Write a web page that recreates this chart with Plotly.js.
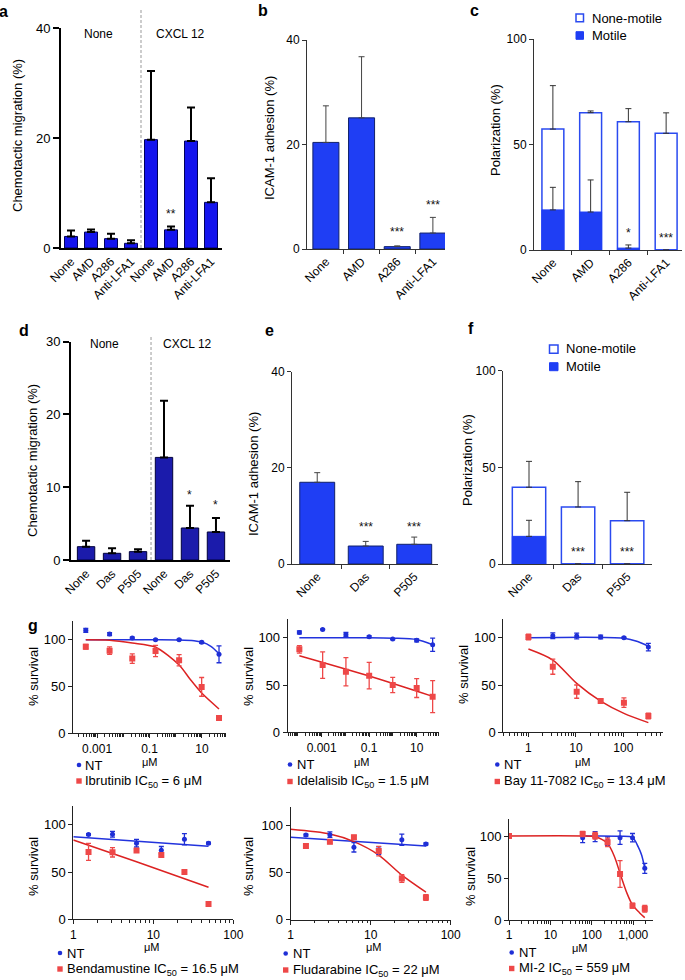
<!DOCTYPE html>
<html><head><meta charset="utf-8">
<script src="https://cdn.plot.ly/plotly-3.0.1.min.js"></script>
<style>body{margin:0;background:#fff}#chart{width:685px;height:980px}</style>
</head><body><div id="chart"></div>
<script>
// ---------------- DATA ----------------
// Panel a – chemotactic migration (%)
const aLabels = ['None','AMD','A286','Anti-LFA1','None','AMD','A286','Anti-LFA1'];
const aValues = [2.1, 2.9, 1.7, 0.85, 19.7, 3.3, 19.45, 8.3];
const aErrors = [1.1, 0.45, 0.9, 0.55, 12.5, 0.6, 6.1, 4.4];
// Panel b – ICAM-1 adhesion (%)
const bLabels = ['None','AMD','A286','Anti-LFA1'];
const bValues = [20.4, 25.1, 0.45, 3.05];
const bErrors = [7.0, 11.7, 0.15, 3.0];
// Panel c – polarization (%)
const cLabels = ['None','AMD','A286','Anti-LFA1'];
const cTotal = [57.3, 65.1, 60.8, 55.3];
const cTotalErr = [20.6, 0.8, 6.2, 9.7];
const cMotile = [19, 18, 0.9, 0];
const cMotileErr = [10.7, 15.2, 1.5, null];
// Panel d – chemotactic migration (%)
const dLabels = ['None','Das','P505','None','Das','P505'];
const dValues = [1.83, 0.92, 1.15, 14.1, 4.4, 3.85];
const dErrors = [0.83, 0.68, 0.32, 7.8, 3.07, 1.92];
// Panel e – ICAM-1 adhesion (%)
const eLabels = ['None','Das','P505'];
const eValues = [17.0, 3.74, 4.1];
const eErrors = [2.0, 0.96, 1.5];
// Panel f – polarization (%)
const fLabels = ['None','Das','P505'];
const fTotal = [39.7, 29.5, 22.4];
const fTotalErr = [13.4, 13.1, 14.7];
const fMotile = [14.3, 0, 0];
const fMotileErr = [8.3, null, null];

// Panel g – % survival vs concentration (µM)
const g1Conc = [0.00037, 0.003, 0.022, 0.17, 1.35, 9.8, 45];
const g1NT = [110, 106, 101.8, 100, 100, 97.2, 84.4];
const g1NTErr = [2, 1.5, 1, 0.5, 0.5, 1, 9];
const g1Drug = [92.6, 88.3, 79.8, 88, 78, 49.6, 16.3];
const g1DrugErr = [2.5, 4, 5, 6, 6, 10, 0.5];
const g1FitX = [0.00037, 0.003, 0.022, 0.17, 1.35, 3.5, 9.8, 45];
const g1FitY = [100, 99.5, 96.5, 92, 73, 58, 43, 26];
const g1NTFitX = [0.00037, 0.17, 1.35, 5, 9.8, 22, 45];
const g1NTFitY = [100, 100, 99.8, 99, 97.5, 93, 85];
const g2Conc = [0.000115, 0.0011, 0.0105, 0.1, 0.98, 10, 47];
const g2NT = [105.6, 108.8, 103.5, 101, 98.6, 97.2, 92.6];
const g2NTErr = [1.5, 0.5, 2, 1, 0.5, 1.5, 7];
const g2Drug = [87.7, 71.1, 64, 59.9, 50, 46.8, 37.7];
const g2DrugErr = [4, 14, 15, 14, 8, 10, 17];
const g2FitX = [0.000115, 0.1, 47];
const g2FitY = [81, 59.5, 38];
const g2NTFitX = [0.000115, 0.1, 1, 10, 47];
const g2NTFitY = [100, 100, 99.5, 98, 92.5];
const g3Conc = [1, 3.26, 10.4, 33.3, 103, 337];
const g3NT = [100.4, 102.1, 101.8, 100.7, 100, 90.1];
const g3NTErr = [2, 3, 3, 2, 0.5, 4];
const g3Drug = [100.7, 69.4, 43, 33.1, 31.3, 17.3];
const g3DrugErr = [3, 8, 7, 2, 5, 3];
const g3FitX = [1, 3.26, 10.4, 33.3, 103, 337];
const g3FitY = [88, 76.4, 51.8, 33, 20, 10.2];
const g3NTFitX = [1, 103, 200, 337];
const g3NTFitY = [100, 99.5, 96, 91];
const g4Conc = [1.55, 3.09, 6.17, 12.6, 24.5, 49];
const g4NT = [89.8, 90.1, 80.6, 73.1, 84.8, 80.6];
const g4NTErr = [1, 3, 4, 4, 6, 1];
const g4Drug = [71.4, 71, 72.8, 68.2, 50.2, 16.3];
const g4DrugErr = [9, 5, 1.5, 1.5, 1, 0.5];
const g4FitX = [1, 6.17, 49];
const g4FitY = [84, 61, 34];
const g4NTFitX = [1, 49];
const g4NTFitY = [87.3, 77.4];
const g5Conc = [1.55, 3.09, 6.17, 12.6, 24.5, 49];
const g5NT = [90, 90.5, 77, 73.5, 85, 80.6];
const g5NTErr = [1, 3, 5, 4, 6, 1];
const g5Drug = [78.4, 83, 87.6, 73, 43.8, 23.6];
const g5DrugErr = [2, 2, 2, 5, 4, 3];
const g5FitX = [1, 3.09, 6.17, 12.6, 24.5, 49];
const g5FitY = [96.1, 91.1, 83, 68.8, 47.5, 29.4];
const g5NTFitX = [1, 49];
const g5NTFitY = [87.6, 78.4];
const g6Conc = [1, 60, 120, 240, 480, 960, 1900];
const g6Drug = [100, 102.4, 100.4, 92.5, 54.8, 17.1, 13.5];
const g6DrugErr = [2, 3, 4, 5, 16, 3, 4];
const g6NTConc = [60, 120, 240, 480, 960, 1900];
const g6NT = [98, 99.2, 94, 98, 98, 61.5];
const g6NTErr = [6, 6, 5, 8, 5, 6];
const g6FitX = [1, 60, 120, 240, 355, 480, 708, 960, 1413, 1900];
const g6FitY = [100, 100, 99, 91, 75, 55.6, 31.7, 17.9, 8.7, 2.8];
const g6NTFitX = [60, 480, 960, 1320, 1600, 1900];
const g6NTFitY = [100, 99.8, 98.4, 87, 77, 61.5];

const drugNames = [
  'Ibrutinib IC<sub>50</sub> = 6 μM',
  'Idelalisib IC<sub>50</sub> = 1.5 μM',
  'Bay 11-7082 IC<sub>50</sub> = 13.4 μM',
  'Bendamustine IC<sub>50</sub> = 16.5 μM',
  'Fludarabine IC<sub>50</sub> = 22 μM',
  'MI-2 IC<sub>50</sub> = 559 μM'
];
const gTickSmall = [0.001, 0.1, 10];
const gTickSmallText = ['0.001', '0.1', '10'];
const gTick3 = [1, 10, 100];
const gTick3Text = ['1', '10', '100'];
const gTick4 = [1, 10, 100, 1000];
const gTick4Text = ['1', '10', '100', '1,000'];

// ---------------- LAYOUT HELPERS ----------------
const W = 685, H = 980;
const FONT = 'Liberation Sans, Arial, Helvetica, sans-serif';
const px = x => x / W;
const py = y => 1 - y / H;
const layout = {
  width: W, height: H, margin: {l: 0, r: 0, t: 0, b: 0},
  paper_bgcolor: '#fff', plot_bgcolor: 'rgba(0,0,0,0)',
  showlegend: false, barmode: 'overlay',
  font: {family: FONT, size: 12, color: '#000'},
  shapes: [], annotations: []
};
const traces = [];

function axes(k, xd, yd, xo, yo) {
  const s = k === 1 ? '' : String(k);
  layout['xaxis' + s] = Object.assign({domain: [px(xd[0]), px(xd[1])], anchor: 'y' + s,
    showgrid: false, zeroline: false, fixedrange: true, automargin: false}, xo);
  layout['yaxis' + s] = Object.assign({domain: [py(yd[1]), py(yd[0])], anchor: 'x' + s,
    showgrid: false, zeroline: false, fixedrange: true, automargin: false}, yo);
  return {x: 'x' + s, y: 'y' + s};
}
function note(x, y, text, opt) {
  layout.annotations.push(Object.assign({xref: 'paper', yref: 'paper', x: px(x), y: py(y), text,
    showarrow: false, xanchor: 'center', yanchor: 'middle',
    font: {size: 12, color: '#000', family: FONT}}, opt || {}));
}
function star(ax, x, y, text) {
  layout.annotations.push({xref: ax.x, yref: ax.y, x, y, text, showarrow: false,
    xanchor: 'center', yanchor: 'middle', font: {size: 12, color: '#111', family: FONT}});
}
function barX(labels, range, heavy, sep) {
  const o = {range, showline: true, linecolor: heavy ? '#000' : '#333', linewidth: heavy ? 2 : 1,
    tickmode: 'array', tickvals: labels.map((_, i) => i), ticktext: labels, tickangle: -45,
    ticks: '', tickfont: {size: 12, color: '#000'}};
  if (sep) o.minor = {tickmode: 'array', tickvals: labels.slice(1).map((_, i) => i + 0.5),
    ticks: 'outside', ticklen: 4, tickcolor: '#333', tickwidth: 1};
  return o;
}
function barY(range, tv, heavy) {
  return {range, showline: true, linecolor: heavy ? '#000' : '#333', linewidth: heavy ? 2 : 1,
    tickmode: 'array', tickvals: tv, ticks: 'outside', ticklen: heavy ? 6 : 4,
    tickwidth: heavy ? 2 : 1, tickcolor: heavy ? '#000' : '#333',
    tickfont: {size: heavy ? 13 : 12, color: '#000'}};
}
function bars(ax, vals, errs, width, fill, lineCol, lineW, errCol, errThick, errW) {
  traces.push({type: 'bar', x: vals.map((_, i) => i), y: vals, xaxis: ax.x, yaxis: ax.y, width,
    marker: {color: fill, line: {color: lineCol, width: lineW}},
    error_y: {type: 'data', symmetric: false, array: errs, arrayminus: errs.map(() => 0),
      color: errCol, thickness: errThick, width: errW},
    hoverinfo: 'skip'});
}

// ---------------- PANEL a ----------------
const AX = axes(1, [61, 222], [28, 248], barX(aLabels, [-0.5, 7.55], true, false), barY([0, 40], [0, 20, 40], true));
bars(AX, aValues, aErrors, 0.65, '#1414ee', '#00005a', 1, '#000', 2, 4);
layout.shapes.push({type: 'line', xref: AX.x, yref: 'paper', x0: 3.5, x1: 3.5, y0: py(248), y1: py(10),
  line: {color: '#999', width: 1, dash: '3px,2px'}});
layout.annotations.push({xref: AX.x, yref: 'paper', x: 1.35, y: py(25), text: 'None', showarrow: false, font: {size: 12, family: FONT}});
layout.annotations.push({xref: AX.x, yref: 'paper', x: 5.45, y: py(25), text: 'CXCL 12', showarrow: false, font: {size: 12, family: FONT}});
star(AX, 5, 6.2, '**');
note(17, 136, 'Chemotactic migration (%)', {textangle: -90, font: {size: 13, family: FONT, color: '#000'}});
note(4, 11, '<b>a</b>', {font: {size: 16, family: FONT, color: '#000'}});

// ---------------- PANEL b ----------------
const BX = axes(2, [307, 445], [40, 249], barX(bLabels, [-0.53, 3.34], false, true), barY([0, 40], [0, 20, 40], false));
bars(BX, bValues, bErrors, 0.73, '#1f3ef4', '#10206a', 1, '#444', 1, 3);
star(BX, 2, 3.25, '***');
star(BX, 3, 8.5, '***');
note(269, 138, 'ICAM-1 adhesion (%)', {textangle: -90, font: {size: 13, family: FONT, color: '#000'}});
note(263, 10, '<b>b</b>', {font: {size: 16, family: FONT, color: '#000'}});

// ---------------- PANEL c ----------------
const CX = axes(3, [534, 682], [39, 250], barX(cLabels, [-0.5, 3.42], false, true), barY([0, 100], [0, 50, 100], false));
bars(CX, cTotal, cTotalErr, 0.58, '#ffffff', '#2a4af0', 1.5, '#333', 1, 3);
bars(CX, cMotile, cMotileErr, 0.58, '#1f3ef4', '#1f3ef4', 1, '#333', 1, 3);
star(CX, 2, 8.1, '*');
star(CX, 3, 5.7, '***');
note(495, 130, 'Polarization (%)', {textangle: -90, font: {size: 13, family: FONT, color: '#000'}});
note(474, 10, '<b>c</b>', {font: {size: 16, family: FONT, color: '#000'}});
layout.shapes.push({type: 'rect', xref: 'paper', yref: 'paper', x0: px(576), x1: px(583.5), y0: py(21.7), y1: py(14),
  fillcolor: '#fff', line: {color: '#2a4af0', width: 1.5}});
layout.shapes.push({type: 'rect', xref: 'paper', yref: 'paper', x0: px(576), x1: px(583.5), y0: py(39.3), y1: py(31.7),
  fillcolor: '#1f3ef4', line: {color: '#1f3ef4', width: 1}});
note(590, 18, 'None-motile', {xanchor: 'left', font: {size: 13, family: FONT, color: '#000'}});
note(590, 35.5, 'Motile', {xanchor: 'left', font: {size: 13, family: FONT, color: '#000'}});

// ---------------- PANEL d ----------------
const DX = axes(4, [71, 230], [341.7, 560], barX(dLabels, [-0.58, 5.54], true, false), barY([0, 30], [0, 10, 20, 30], true));
bars(DX, dValues, dErrors, 0.67, '#1b1bab', '#00003a', 1, '#000', 2, 4);
layout.shapes.push({type: 'line', xref: DX.x, yref: 'paper', x0: 2.5, x1: 2.5, y0: py(560), y1: py(337),
  line: {color: '#999', width: 1, dash: '3px,2px'}});
layout.annotations.push({xref: DX.x, yref: 'paper', x: 0.7, y: py(344), text: 'None', showarrow: false, font: {size: 12, family: FONT}});
layout.annotations.push({xref: DX.x, yref: 'paper', x: 3.9, y: py(344), text: 'CXCL 12', showarrow: false, font: {size: 12, family: FONT}});
star(DX, 4, 9.0, '*');
star(DX, 5, 7.5, '*');
note(32, 461, 'Chemotactic migration (%)', {textangle: -90, font: {size: 13, family: FONT, color: '#000'}});
note(24, 330, '<b>d</b>', {font: {size: 16, family: FONT, color: '#000'}});

// ---------------- PANEL e ----------------
const EX = axes(5, [292, 438], [371.7, 564], barX(eLabels, [-0.52, 2.49], false, true), barY([0, 40], [0, 20, 40], false));
bars(EX, eValues, eErrors, 0.72, '#1f3ef4', '#10206a', 1, '#444', 1, 3);
star(EX, 1, 7.75, '***');
star(EX, 2, 7.75, '***');
note(253, 474, 'ICAM-1 adhesion (%)', {textangle: -90, font: {size: 13, family: FONT, color: '#000'}});
note(269, 330, '<b>e</b>', {font: {size: 16, family: FONT, color: '#000'}});

// ---------------- PANEL f ----------------
const FX = axes(6, [503, 651.7], [370.7, 564], barX(fLabels, [-0.53, 2.5], false, true), barY([0, 100], [0, 50, 100], false));
bars(FX, fTotal, fTotalErr, 0.68, '#ffffff', '#2a4af0', 1.5, '#333', 1, 3);
bars(FX, fMotile, fMotileErr, 0.68, '#1f3ef4', '#1f3ef4', 1, '#333', 1, 3);
star(FX, 1, 6.2, '***');
star(FX, 2, 6.2, '***');
note(467, 460, 'Polarization (%)', {textangle: -90, font: {size: 13, family: FONT, color: '#000'}});
note(471, 328, '<b>f</b>', {font: {size: 16, family: FONT, color: '#000'}});
layout.shapes.push({type: 'rect', xref: 'paper', yref: 'paper', x0: px(549.5), x1: px(558), y0: py(353.3), y1: py(345),
  fillcolor: '#fff', line: {color: '#2a4af0', width: 1.5}});
layout.shapes.push({type: 'rect', xref: 'paper', yref: 'paper', x0: px(549.5), x1: px(558), y0: py(370.7), y1: py(362.7),
  fillcolor: '#1f3ef4', line: {color: '#1f3ef4', width: 1}});
note(564, 349, 'None-motile', {xanchor: 'left', font: {size: 13, family: FONT, color: '#000'}});
note(564, 366.7, 'Motile', {xanchor: 'left', font: {size: 13, family: FONT, color: '#000'}});

// ---------------- PANEL g ----------------
const BLUE = '#1f2fd6', RED = '#ee4848', REDLINE = '#dc2222', BLUELINE = '#2233dd';
function doseAxes(k, xd, yd, xrange, tv, tt) {
  return axes(k, xd, yd,
    {type: 'log', range: xrange, showline: true, linecolor: '#222', linewidth: 1,
      tickmode: 'array', tickvals: tv, ticktext: tt, ticks: 'outside', ticklen: 4, tickcolor: '#222',
      tickfont: {size: 12, color: '#000'},
      minor: {dtick: 'D1', ticks: 'outside', ticklen: 2.5, tickcolor: '#222'}},
    {range: [0, 120], showline: true, linecolor: '#222', linewidth: 1, tickmode: 'array',
      tickvals: [0, 50, 100], ticks: 'outside', ticklen: 4, tickcolor: '#222',
      tickfont: {size: 13, color: '#000'}});
}
function line(ax, x, y, color) {
  traces.push({type: 'scatter', mode: 'lines', x, y, xaxis: ax.x, yaxis: ax.y,
    line: {color, width: 1.5, shape: 'spline', smoothing: 0.8}, hoverinfo: 'skip'});
}
function pts(ax, x, y, err, color, symbol, size) {
  traces.push({type: 'scatter', mode: 'markers', x, y, xaxis: ax.x, yaxis: ax.y,
    marker: {color, symbol, size},
    error_y: {type: 'data', array: err, color, thickness: 1.3, width: 2.5}, hoverinfo: 'skip'});
}
function doseLegend(cx, cy1, cy2, tx, name) {
  layout.shapes.push({type: 'circle', xref: 'paper', yref: 'paper', x0: px(cx - 2.3), x1: px(cx + 2.3),
    y0: py(cy1 + 2.3), y1: py(cy1 - 2.3), fillcolor: BLUE, line: {width: 0}});
  layout.shapes.push({type: 'rect', xref: 'paper', yref: 'paper', x0: px(cx - 2.7), x1: px(cx + 2.7),
    y0: py(cy2 + 2.7), y1: py(cy2 - 2.7), fillcolor: RED, line: {width: 0}});
  note(tx, cy1, 'NT', {xanchor: 'left', font: {size: 13, family: FONT, color: '#000'}});
  note(tx, cy2, name, {xanchor: 'left', font: {size: 13, family: FONT, color: '#000'}});
}

const G1 = doseAxes(7, [73, 226], [621, 733.3], [-3.92, 1.92], gTickSmall, gTickSmallText);
line(G1, g1NTFitX, g1NTFitY, BLUELINE); line(G1, g1FitX, g1FitY, REDLINE);
pts(G1, g1Conc, g1NT, g1NTErr, BLUE, 'circle', 5); pts(G1, g1Conc, g1Drug, g1DrugErr, RED, 'square', 6);
note(33, 677, '% survival', {textangle: -90, font: {size: 13, family: FONT, color: '#000'}});
note(150, 762, 'μM', {font: {size: 11, family: FONT, color: '#000'}});
doseLegend(79, 765, 781, 83, drugNames[0]);
note(33, 625, '<b>g</b>', {font: {size: 16, family: FONT, color: '#000'}});

const G2 = doseAxes(8, [287.7, 439], [618.8, 732.3], [-4.43, 1.94], gTickSmall, gTickSmallText);
line(G2, g2NTFitX, g2NTFitY, BLUELINE); line(G2, g2FitX, g2FitY, REDLINE);
pts(G2, g2Conc, g2NT, g2NTErr, BLUE, 'circle', 5); pts(G2, g2Conc, g2Drug, g2DrugErr, RED, 'square', 6);
note(248, 677, '% survival', {textangle: -90, font: {size: 13, family: FONT, color: '#000'}});
note(361.7, 762, 'μM', {font: {size: 11, family: FONT, color: '#000'}});
doseLegend(290, 764.5, 781.5, 295, drugNames[1]);

const G3 = doseAxes(9, [503.3, 662.7], [618.8, 732.3], [-0.53, 2.83], gTick3, gTick3Text);
line(G3, g3NTFitX, g3NTFitY, BLUELINE); line(G3, g3FitX, g3FitY, REDLINE);
pts(G3, g3Conc, g3NT, g3NTErr, BLUE, 'circle', 5); pts(G3, g3Conc, g3Drug, g3DrugErr, RED, 'square', 6);
note(463, 675, '% survival', {textangle: -90, font: {size: 13, family: FONT, color: '#000'}});
note(583.3, 762, 'μM', {font: {size: 11, family: FONT, color: '#000'}});
doseLegend(497.3, 764.5, 781.5, 502, drugNames[2]);

const G4 = doseAxes(10, [73.3, 233.3], [806, 919.3], [0, 2], gTick3, gTick3Text);
line(G4, g4NTFitX, g4NTFitY, BLUELINE); line(G4, g4FitX, g4FitY, REDLINE);
pts(G4, g4Conc, g4NT, g4NTErr, BLUE, 'circle', 5); pts(G4, g4Conc, g4Drug, g4DrugErr, RED, 'square', 6);
note(33, 867, '% survival', {textangle: -90, font: {size: 13, family: FONT, color: '#000'}});
note(151.7, 947, 'μM', {font: {size: 11, family: FONT, color: '#000'}});
doseLegend(60, 953, 969, 65, drugNames[3]);

const G5 = doseAxes(11, [290.7, 450.7], [806.9, 919.7], [0, 2], gTick3, gTick3Text);
line(G5, g5NTFitX, g5NTFitY, BLUELINE); line(G5, g5FitX, g5FitY, REDLINE);
pts(G5, g5Conc, g5NT, g5NTErr, BLUE, 'circle', 5); pts(G5, g5Conc, g5Drug, g5DrugErr, RED, 'square', 6);
note(248, 867, '% survival', {textangle: -90, font: {size: 13, family: FONT, color: '#000'}});
note(374, 947, 'μM', {font: {size: 11, family: FONT, color: '#000'}});
doseLegend(285.7, 953.5, 970, 291, drugNames[4]);

const G6 = doseAxes(12, [509, 652.7], [819.2, 920], [0, 3.47], gTick4, gTick4Text);
line(G6, g6NTFitX, g6NTFitY, BLUELINE); line(G6, g6FitX, g6FitY, REDLINE);
pts(G6, g6NTConc, g6NT, g6NTErr, BLUE, 'circle', 5); pts(G6, g6Conc, g6Drug, g6DrugErr, RED, 'square', 6);
note(470, 877, '% survival', {textangle: -90, font: {size: 13, family: FONT, color: '#000'}});
note(580, 948, 'μM', {font: {size: 11, family: FONT, color: '#000'}});
doseLegend(511.7, 952.5, 968.5, 517, drugNames[5]);

Plotly.newPlot('chart', traces, layout, {staticPlot: true, displayModeBar: false});
</script>
</body></html>
